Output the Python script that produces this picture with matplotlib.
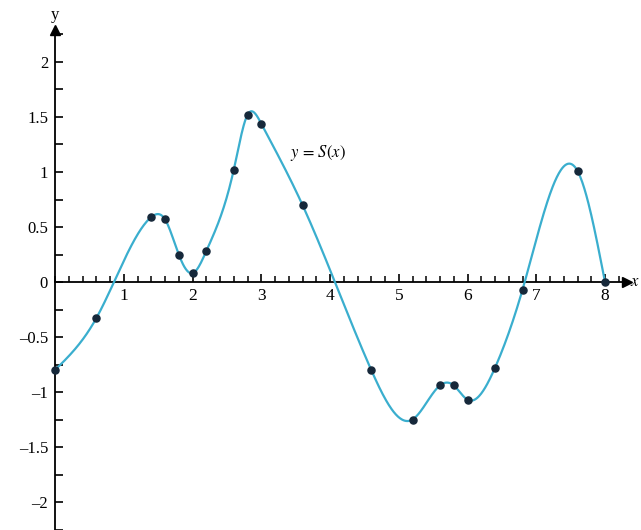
import numpy as np
import matplotlib
matplotlib.use("Agg")
import matplotlib.pyplot as plt
from matplotlib.ticker import MultipleLocator, FixedLocator

# knots
x_knots = [0.0, 0.6, 1.4, 1.6, 1.8, 2.0, 2.2, 2.6, 2.8, 3.0,
           3.6, 4.6, 5.2, 5.6, 5.8, 6.0, 6.4, 6.8, 7.6, 8.0]
y_knots = [-0.80, -0.33, 0.59, 0.57, 0.25, 0.08, 0.28, 1.02, 1.52, 1.44,
           0.70, -0.80, -1.25, -0.94, -0.94, -1.07, -0.78, -0.07, 1.01, 0.0]
x_ticks = [1, 2, 3, 4, 5, 6, 7, 8]
y_ticks = [-2, -1.5, -1, -0.5, 0, 0.5, 1, 1.5, 2]
y_tick_labels = ["\u20132", "\u20131.5", "\u20131", "\u20130.5", "0", "0.5", "1", "1.5", "2"]


def natural_spline(xk, yk, xs):
    xk = np.asarray(xk); yk = np.asarray(yk)
    n = len(xk)
    h = np.diff(xk)
    A = np.zeros((n, n)); b = np.zeros(n)
    A[0, 0] = 1; A[-1, -1] = 1
    for i in range(1, n - 1):
        A[i, i - 1] = h[i - 1]
        A[i, i] = 2 * (h[i - 1] + h[i])
        A[i, i + 1] = h[i]
        b[i] = 6 * ((yk[i + 1] - yk[i]) / h[i] - (yk[i] - yk[i - 1]) / h[i - 1])
    M = np.linalg.solve(A, b)
    idx = np.clip(np.searchsorted(xk, xs) - 1, 0, n - 2)
    x0, x1 = xk[idx], xk[idx + 1]
    hh = x1 - x0
    t0 = x1 - xs; t1 = xs - x0
    return (M[idx] * t0**3 / (6 * hh) + M[idx + 1] * t1**3 / (6 * hh)
            + (yk[idx] / hh - M[idx] * hh / 6) * t0
            + (yk[idx + 1] / hh - M[idx + 1] * hh / 6) * t1)


plt.rcParams['font.family'] = 'Liberation Serif'
plt.rcParams['mathtext.fontset'] = 'stix'

fig = plt.figure(figsize=(6.41, 5.30), dpi=100)
ax = fig.add_axes([55 / 641, 0, 572 / 641, 500 / 530])
ax.set_xlim(0, 572 / 68.75)
ax.set_ylim(-(530 - 282) / 110, (282 - 30) / 110)

xs = np.linspace(0, 8, 800)
ax.plot(xs, natural_spline(x_knots, y_knots, xs), color='#3aaece', lw=1.6, zorder=3)
ax.scatter(x_knots, y_knots, s=26, color='#16283a', zorder=4, clip_on=False)

for s in ['top', 'right']:
    ax.spines[s].set_visible(False)
ax.spines['left'].set_position(('data', 0))
ax.spines['bottom'].set_position(('data', 0))
ax.spines['left'].set_linewidth(1.3)
ax.spines['bottom'].set_linewidth(1.3)

ax.xaxis.set_major_locator(FixedLocator(x_ticks))
ax.xaxis.set_minor_locator(MultipleLocator(0.2))
ax.yaxis.set_major_locator(FixedLocator(y_ticks))
ax.set_yticklabels(y_tick_labels)
ax.yaxis.set_minor_locator(MultipleLocator(0.25))
ax.tick_params(axis='x', which='major', direction='in', length=6, width=1.2,
               labelsize=12.5, pad=4)
ax.tick_params(axis='x', which='minor', direction='in', length=4, width=1.1)
ax.tick_params(axis='y', which='both', direction='in', length=6, width=1.2,
               labelsize=12, pad=5)

# arrow heads
xmax = ax.get_xlim()[1]; ymax = ax.get_ylim()[1]
ax.plot([xmax], [0], marker='>', color='black', ms=7, clip_on=False)
ax.plot([0], [ymax], marker='^', color='black', ms=7, clip_on=False)
ax.text(0, ymax + 0.06, 'y', ha='center', va='bottom', fontsize=12)
ax.text(xmax + 0.05, 0, '$x$', ha='left', va='center', fontsize=12, clip_on=False)
ax.text(3.42, 1.17, '$y\\,=\\,S(x)$', ha='left', va='center', fontsize=12)

fig.savefig('out.png', dpi=100)
